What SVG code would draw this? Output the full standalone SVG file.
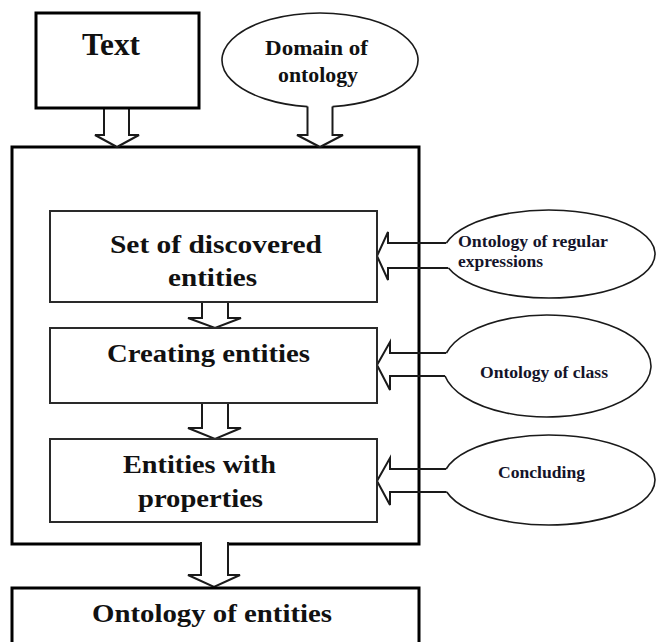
<svg xmlns="http://www.w3.org/2000/svg" width="656" height="642" viewBox="0 0 656 642">
<style>
.outer{fill:#fff;stroke:#000;stroke-width:3}
.inner{fill:#fff;stroke:#2a2a2a;stroke-width:2}
.ell{fill:#fff;stroke:#1a1a1a;stroke-width:1.6}
.arr{fill:#fff;stroke:#1a1a1a;stroke-width:2;stroke-linejoin:miter}
.sarr{fill:none;stroke:#1a1a1a;stroke-width:2}
text{font-family:'Liberation Serif','DejaVu Serif',serif;font-weight:bold;fill:#111}
.big{font-size:25px}
.sm{font-size:17px;fill:#14142a}
</style>
<rect width="656" height="642" fill="#fff"/>

<g id="main">
<rect class="outer" x="12" y="147" width="407" height="397"/>
</g>

<g id="connectors">
<path class="arr" d="M104,109 V135 H95 L117,147 L139,135 H129 V109"/>
<path class="arr" d="M307.5,106 V135 H297 L320,147 L343,135 H332.5 V106"/>
<path class="arr" d="M202,300 V318 H188 L215,328 L241,318 H228 V300"/>
<path class="arr" d="M202,401 V428 H188 L215,439 L241,428 H228 V401"/>
<path class="arr" d="M201,542 V575 H188 L214,587 L240,575 H228 V542"/>
<path class="sarr" d="M446.4,243 H388 V232 L377,256 L388,280 V268 H448.5"/>
<path class="sarr" d="M446.4,353 H390 V342 L377,365 L390,390 V376 H445"/>
<path class="sarr" d="M446.2,469 H390 V458 L377,481 L390,505 V492 H446.8"/>
</g>

<g id="text-node">
<rect class="outer" x="36" y="13" width="163" height="95"/>
<text x="82" y="55" font-family="Liberation Serif" font-size="31" textLength="58" lengthAdjust="spacingAndGlyphs">Text</text>
</g>

<g id="domain">
<path class="ell" d="M332.5,106.6 A98,47 0 1 0 307.5,106.6"/>
<text x="265" y="55" font-family="Liberation Serif" font-size="22" textLength="103" lengthAdjust="spacingAndGlyphs">Domain of</text>
<text x="278" y="82" font-family="Liberation Serif" font-size="22" textLength="80" lengthAdjust="spacingAndGlyphs">ontology</text>
</g>

<g id="discovered">
<rect class="inner" x="50" y="211" width="327" height="91"/>
<text class="big" x="110" y="253" font-family="Liberation Serif" textLength="212" lengthAdjust="spacingAndGlyphs">Set of discovered</text>
<text class="big" x="168" y="286" font-family="Liberation Serif" textLength="89" lengthAdjust="spacingAndGlyphs">entities</text>
</g>

<g id="creating">
<rect class="inner" x="50" y="328" width="327" height="75"/>
<text class="big" x="107" y="362" font-family="Liberation Serif" textLength="203" lengthAdjust="spacingAndGlyphs">Creating entities</text>
</g>

<g id="properties">
<rect class="inner" x="50" y="439" width="327" height="83"/>
<text class="big" x="123" y="473" font-family="Liberation Serif" textLength="153" lengthAdjust="spacingAndGlyphs">Entities with</text>
<text class="big" x="138" y="507" font-family="Liberation Serif" textLength="125" lengthAdjust="spacingAndGlyphs">properties</text>
</g>

<g id="ontology-entities">
<rect class="outer" x="12" y="588" width="407" height="70"/>
<text class="big" x="92" y="622" font-family="Liberation Serif" textLength="240" lengthAdjust="spacingAndGlyphs">Ontology of entities</text>
</g>

<g id="regular">
<path class="ell" d="M446.4,243 A106,44 0 1 1 448.5,268"/>
<text class="sm" x="458" y="247" font-family="Liberation Serif" textLength="150" lengthAdjust="spacingAndGlyphs">Ontology of regular</text>
<text class="sm" x="458" y="267" font-family="Liberation Serif" textLength="85" lengthAdjust="spacingAndGlyphs">expressions</text>
</g>

<g id="class">
<path class="ell" d="M446.4,353 A104,51 0 1 1 445,376"/>
<text class="sm" x="480" y="378" font-family="Liberation Serif" textLength="128" lengthAdjust="spacingAndGlyphs">Ontology of class</text>
</g>

<g id="concluding">
<path class="ell" d="M446.2,469 A106,45 0 1 1 446.8,492"/>
<text class="sm" x="498" y="478" font-family="Liberation Serif" textLength="87" lengthAdjust="spacingAndGlyphs">Concluding</text>
</g>
</svg>
